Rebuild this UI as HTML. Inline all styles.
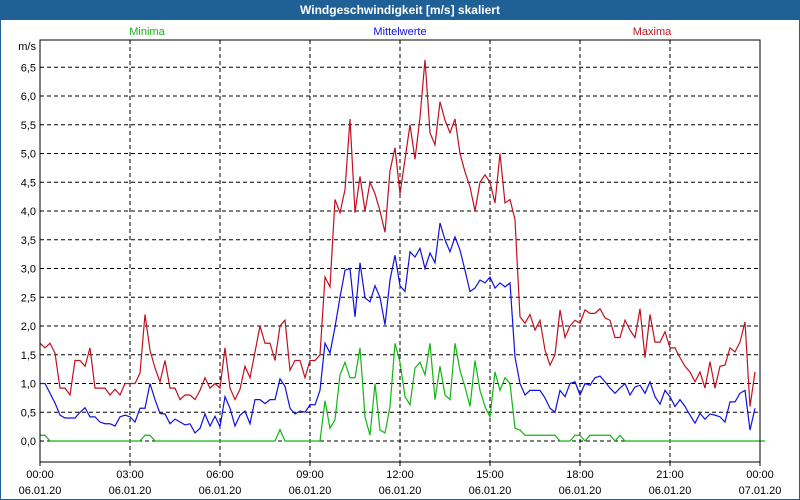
<!DOCTYPE html>
<html><head><meta charset="utf-8"><style>
body{margin:0;background:#fff;}
svg{display:block;font-family:"Liberation Sans",sans-serif;}
</style></head><body>
<svg id="chart" width="800" height="500" viewBox="0 0 800 500">
<rect x="0" y="0" width="800" height="500" fill="#fff" stroke="#1f6196" stroke-width="2"/>
<rect x="0" y="0" width="800" height="20" fill="#1f6196"/>
<text x="400" y="14" text-anchor="middle" fill="#fff" font-size="12" font-weight="bold">Windgeschwindigkeit [m/s] skaliert</text>
<text x="147" y="35" text-anchor="middle" fill="#14b414" font-size="11">Minima</text>
<text x="400" y="35" text-anchor="middle" fill="#1010e0" font-size="11">Mittelwerte</text>
<text x="652" y="35" text-anchor="middle" fill="#c01020" font-size="11">Maxima</text>
<text x="36" y="50" text-anchor="end" font-size="11" fill="#000">m/s</text>
<g id="grid"></g><g id="series"></g><g id="axes"></g>
</svg>
<script>
const yTicks=[0,0.5,1,1.5,2,2.5,3,3.5,4,4.5,5,5.5,6,6.5];
const xTickTimes=["00:00","03:00","06:00","09:00","12:00","15:00","18:00","21:00","00:00"];
const xTickDates=["06.01.20","06.01.20","06.01.20","06.01.20","06.01.20","06.01.20","06.01.20","06.01.20","07.01.20"];
const maxima=[1.7,1.62,1.7,1.53,0.92,0.92,0.8,1.4,1.4,1.3,1.62,0.92,0.92,0.92,0.8,0.9,0.8,1.0,1.0,1.0,1.18,2.2,1.58,1.27,1.03,1.4,0.92,0.92,0.72,0.8,0.8,0.72,0.88,1.1,0.92,1.0,0.92,1.62,0.92,0.72,0.9,1.3,1.1,1.55,2.0,1.7,1.7,1.4,2.0,2.1,1.23,1.4,1.4,1.1,1.4,1.4,1.5,2.85,2.68,4.2,3.97,4.37,5.6,3.97,4.6,4.0,4.5,4.3,4.0,3.63,4.7,5.1,4.3,4.9,5.5,4.9,5.63,6.63,5.36,5.15,5.9,5.58,5.36,5.6,5.0,4.68,4.42,4.0,4.5,4.63,4.5,4.14,5.0,4.14,4.2,3.85,2.16,2.05,2.2,1.93,2.1,1.58,1.32,1.5,2.28,1.8,2.0,2.1,2.05,2.28,2.22,2.22,2.3,2.14,2.1,1.8,1.8,2.1,1.93,1.8,2.3,1.45,2.2,1.72,1.72,1.9,1.62,1.62,1.45,1.3,1.2,1.03,1.2,0.92,1.38,0.92,1.3,1.32,1.62,1.55,1.72,2.07,0.6,1.2];
const mittel=[1.0,1.0,0.83,0.66,0.45,0.4,0.4,0.4,0.5,0.58,0.42,0.42,0.33,0.3,0.3,0.26,0.42,0.45,0.42,0.33,0.57,0.57,1.0,0.72,0.48,0.47,0.3,0.38,0.33,0.28,0.3,0.14,0.22,0.47,0.26,0.43,0.25,0.77,0.57,0.26,0.45,0.52,0.3,0.72,0.72,0.65,0.72,0.72,1.08,0.95,0.57,0.47,0.52,0.5,0.63,0.63,0.88,1.7,1.53,1.98,2.5,2.97,3.0,2.16,3.1,2.49,2.42,2.7,2.5,2.02,2.8,3.23,2.7,2.6,3.29,3.2,3.35,3.0,3.27,3.1,3.79,3.5,3.29,3.55,3.32,2.97,2.6,2.66,2.8,2.75,2.85,2.66,2.75,2.68,2.75,1.46,1.0,0.8,0.88,0.88,0.88,0.75,0.57,0.5,0.88,0.77,1.0,1.03,0.8,1.0,0.97,1.1,1.13,1.03,0.92,0.83,0.92,1.0,0.8,0.94,0.97,0.83,1.03,0.77,0.64,0.88,0.77,0.6,0.72,0.6,0.45,0.31,0.48,0.38,0.47,0.45,0.42,0.33,0.68,0.68,0.83,0.88,0.19,0.57];
const minima=[0.1,0.1,0,0,0,0,0,0,0,0,0,0,0,0,0,0,0,0,0,0,0,0.1,0.1,0,0,0,0,0,0,0,0,0,0,0,0,0,0,0,0,0,0,0,0,0,0,0,0,0,0.2,0,0,0,0,0,0,0,0,0.7,0.22,0.37,1.15,1.37,1.1,1.1,1.62,0.42,0.1,1.0,0.19,0.14,0.6,1.7,1.37,0.77,0.63,1.27,1.37,1.15,1.7,0.72,1.3,0.8,0.72,1.7,1.23,0.94,0.6,1.4,0.88,0.6,0.42,1.2,0.88,1.1,1.0,0.22,0.19,0.1,0.1,0.1,0.1,0.1,0.1,0.1,0,0,0,0.1,0.1,0,0.1,0.1,0.1,0.1,0.1,0,0.1,0,0,0,0,0,0,0,0,0,0,0,0,0,0,0,0,0,0,0,0,0,0,0,0,0,0,0,0,0];
const NS="http://www.w3.org/2000/svg";
const X0=40,X1=760,Y0=441,PX=57.5,TOP=40,BOT=462;
function xs(i){return X0+i*(X1-X0)/144;}
function ys(v){return Y0-v*PX;}
function mk(tag,attrs,parent){const e=document.createElementNS(NS,tag);for(const k in attrs)e.setAttribute(k,attrs[k]);parent.appendChild(e);return e;}
const grid=document.getElementById('grid'),axes=document.getElementById('axes'),ser=document.getElementById('series');
yTicks.forEach(v=>{
  const l=mk('line',{x1:X0,x2:X1,y1:ys(v),y2:ys(v),stroke:'#000','stroke-dasharray':'4,3'},grid);
  
  
  const t=mk('text',{x:36,y:ys(v)+4,'text-anchor':'end','font-size':11,fill:'#000'},axes);
  t.textContent=v.toFixed(1).replace('.',',');
  
  
});
xTickTimes.forEach((s,i)=>{
  const x=X0+i*90;
  if(i>0&&i<8){const l=mk('line',{x1:x,x2:x,y1:TOP,y2:BOT,stroke:'#000','stroke-dasharray':'4,3'},grid);
  
  }
  const tk=mk('line',{x1:x,x2:x,y1:BOT,y2:BOT+4,stroke:'#000'},axes);
  
  
  const t=mk('text',{x:x,y:478,'text-anchor':'middle','font-size':11,fill:'#000'},axes);
  t.textContent=s;
  
  
  const d=mk('text',{x:x,y:494,'text-anchor':'middle','font-size':11,fill:'#000'},axes);
  d.textContent=xTickDates[i];
  
  
});
const box=mk('rect',{x:X0,y:TOP,width:X1-X0,height:BOT-TOP,fill:'none',stroke:'#000'},axes);


function line(arr,color,name){
  const p=mk('polyline',{points:arr.map((v,i)=>xs(i)+','+ys(v)).join(' '),fill:'none',stroke:color,'stroke-width':1.2},ser);
  
  
}
line(minima,'#14b414','minima-line');
line(mittel,'#1010e0','mittelwerte-line');
line(maxima,'#c01020','maxima-line');
</script>
</body></html>
